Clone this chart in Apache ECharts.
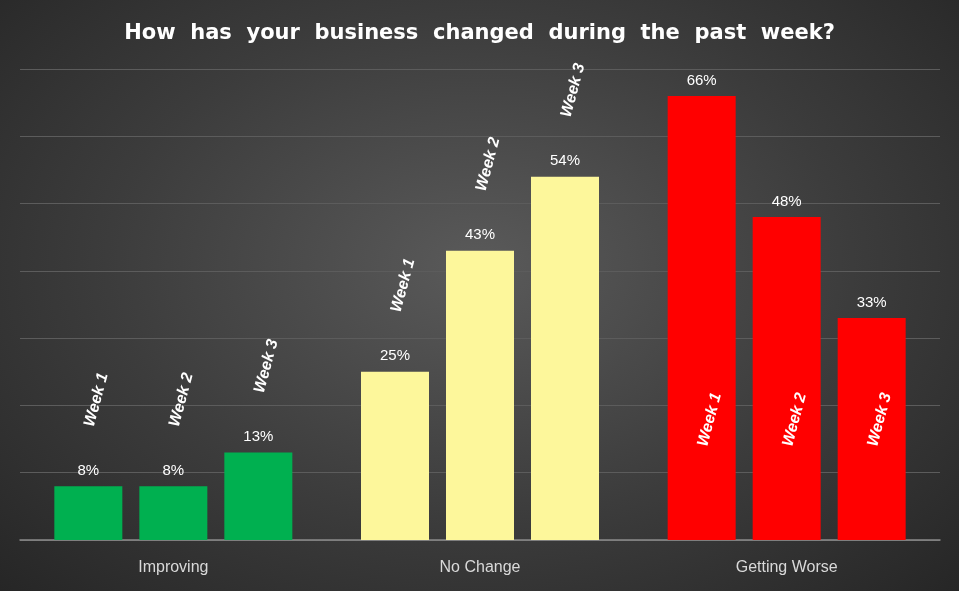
<!DOCTYPE html>
<html><head><meta charset="utf-8">
<script src="https://cdn.jsdelivr.net/npm/echarts@6/dist/echarts.min.js"></script>
<style>html,body{margin:0;padding:0;}#c{width:959px;height:591px;background:radial-gradient(ellipse at 50% 45%,#5a5a5a 0%,#3c3c3c 55%,#262626 100%);}</style>
</head><body><div id="c"></div>
<script>
const categories = ['Improving', 'No Change', 'Getting Worse'];
const weeks = ['Week 1', 'Week 2', 'Week 3'];
const week1 = [8, 25, 66];
const week2 = [8, 43, 48];
const week3 = [13, 54, 33];
const colors = ['#00b050', '#fdf79b', '#ff0000'];
const yTicks = [0, 10, 20, 30, 40, 50, 60, 70];

const values = [week1, week2, week3];
const series = [];
values.forEach((vals, w) => {
  series.push({
    type: 'bar', stack: 's' + w, barWidth: 68, barGap: '25%', barCategoryGap: '22%',
    data: vals.map((v, i) => ({
      value: v,
      itemStyle: { color: colors[i] },
      label: i === 2 ? {
        show: true, position: 'insideBottom', rotate: 75, align: 'left', verticalAlign: 'middle',
        distance: 90, offset: [4, 0], formatter: weeks[w],
        color: '#fff', fontStyle: 'italic', fontWeight: 'bold', fontSize: 16, fontFamily: 'Liberation Sans'
      } : {
        show: true, position: 'top', rotate: 75, align: 'left', verticalAlign: 'middle',
        distance: 56, offset: [4, 0], formatter: weeks[w],
        color: '#fff', fontStyle: 'italic', fontWeight: 'bold', fontSize: 16, fontFamily: 'Liberation Sans'
      }
    }))
  });
  series.push({
    type: 'bar', stack: 's' + w, barWidth: 68, barGap: '25%',
    data: vals.map(() => 0),
    itemStyle: { color: 'transparent' },
    label: { show: true, position: 'top', distance: 8, formatter: p => vals[p.dataIndex] + '%',
      color: '#fff', fontSize: 15, fontFamily: 'Liberation Sans' }
  });
});

const chart = echarts.init(document.getElementById('c'));
chart.setOption({
  animation: false,
  title: { text: 'How  has  your  business  changed  during  the  past  week?', left: 'center', top: 18,
    textStyle: { color: '#fff', fontSize: 21, fontWeight: 'bold', fontFamily: 'DejaVu Sans' } },
  grid: { left: 20, right: 19, top: 69, bottom: 51 },
  xAxis: { type: 'category', data: categories,
    axisLine: { lineStyle: { color: '#8a8a8a', width: 1.5 } }, axisTick: { show: false },
    axisLabel: { color: '#d9d9d9', fontSize: 16, margin: 20, fontFamily: 'Liberation Sans' } },
  yAxis: { type: 'value', min: yTicks[0], max: yTicks[yTicks.length - 1], interval: 10,
    axisLabel: { show: false }, axisLine: { show: false }, axisTick: { show: false },
    splitLine: { lineStyle: { color: '#5c5c5c', width: 1 } } },
  series: series
});
</script></body></html>
